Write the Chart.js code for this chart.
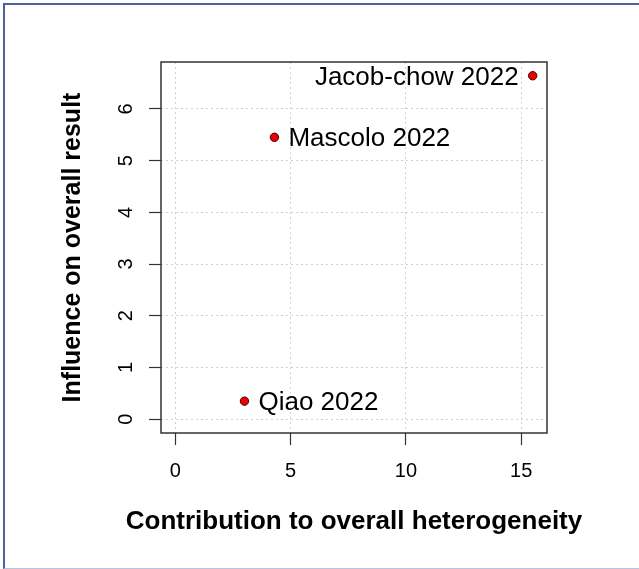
<!DOCTYPE html>
<html>
<head>
<meta charset="utf-8">
<script src="https://cdn.jsdelivr.net/npm/chart.js@4"></script>
<style>
  body { margin: 0; background: #fff; }
  #frame {
    position: absolute; left: 3px; top: 3px; width: 636px; height: 566px;
    border-left: 2px solid #4a62a0; border-top: 2px solid #4a62a0;
    border-bottom: 1px solid #b9c3de; box-sizing: border-box;
  }
  #myScatter { position: absolute; left: 0; top: 0; }
</style>
</head>
<body>
<div id="frame"></div>
<canvas id="myScatter" width="639" height="569"></canvas>
<script>
// study names and values
var studies = ['Qiao 2022', 'Mascolo 2022', 'Jacob-chow 2022'];
var heterogeneity = [3.0, 4.3, 15.5];   // x: contribution to overall heterogeneity
var influence = [0.35, 5.45, 6.64];     // y: influence on overall result
var xTicks = [0, 5, 10, 15];
var yTicks = [0, 1, 2, 3, 4, 5, 6];
var xTitle = 'Contribution to overall heterogeneity';
var yTitle = 'Influence on overall result';

var points = studies.map(function (s, i) {
    return { x: heterogeneity[i], y: influence[i] };
});

// R style limits: from 0 to max, widened by 4%
function rRange(vals) {
    var hi = Math.max.apply(null, vals);
    var pad = hi * 0.04;
    return [-pad, hi + pad];
}
var xr = rRange(heterogeneity);
var yr = rRange(influence);

// box round the plot area
var boxPlugin = {
    id: 'box',
    beforeDatasetsDraw: function (chart) {
        var a = chart.chartArea, c = chart.ctx;
        c.save();
        c.strokeStyle = '#333';
        c.lineWidth = 1.5;
        c.strokeRect(a.left, a.top, a.right - a.left, a.bottom - a.top);
        c.restore();
    }
};

// study names next to the points, and the x title (chart.js squeezes it to the axis width)
var labelPlugin = {
    id: 'pointLabels',
    afterDatasetsDraw: function (chart) {
        var c = chart.ctx, a = chart.chartArea;
        var meta = chart.getDatasetMeta(0);
        c.save();
        c.font = '26px "Liberation Sans", Arial, sans-serif';
        c.fillStyle = '#000';
        c.textBaseline = 'middle';
        meta.data.forEach(function (pt, i) {
            var txt = studies[i];
            var w = c.measureText(txt).width;
            if (pt.x + 14 + w > a.right) {
                c.textAlign = 'right';
                c.fillText(txt, pt.x - 14, pt.y + 2);
            } else {
                c.textAlign = 'left';
                c.fillText(txt, pt.x + 14, pt.y + 2);
            }
        });
        c.font = 'bold 26px "Liberation Sans", Arial, sans-serif';
        c.textAlign = 'center';
        c.fillText(xTitle, (a.left + a.right) / 2, 522);
        c.restore();
    }
};

var ctx = document.getElementById('myScatter').getContext('2d');
var chart = new Chart(ctx, {
    type: 'scatter',
    data: {
        datasets: [{
            data: points,
            backgroundColor: '#ee0000',
            borderColor: '#3a0000',
            borderWidth: 1,
            pointRadius: 4.2,
            pointHoverRadius: 4.2
        }]
    },
    options: {
        responsive: false,
        animation: false,
        layout: { padding: { top: 62, right: 92, left: 0, bottom: 0 } },
        plugins: { legend: { display: false }, tooltip: { enabled: false } },
        scales: {
            x: {
                type: 'linear',
                min: xr[0], max: xr[1],
                afterFit: function (s) { s.height = 136; },
                afterBuildTicks: function (s) { s.ticks = xTicks.map(function (v) { return { value: v }; }); },
                ticks: { color: '#000', padding: 14, font: { family: '"Liberation Sans", Arial', size: 20 } },
                grid: { color: '#d0d0d0', lineWidth: 1, tickLength: 12, tickColor: '#333', tickWidth: 1.2, tickBorderDash: [] },
                border: { display: false, dash: [2, 3] }
            },
            y: {
                type: 'linear',
                min: yr[0], max: yr[1],
                afterFit: function (s) { s.width = 161; },
                afterBuildTicks: function (s) { s.ticks = yTicks.map(function (v) { return { value: v }; }); },
                ticks: { color: '#000', padding: 17, minRotation: 90, maxRotation: 90, crossAlign: 'center',
                         font: { family: '"Liberation Sans", Arial', size: 20 } },
                grid: { color: '#d0d0d0', lineWidth: 1, tickLength: 12, tickColor: '#333', tickWidth: 1.2, tickBorderDash: [] },
                border: { display: false, dash: [2, 3] },
                title: {
                    display: true, text: yTitle, color: '#000',
                    font: { family: '"Liberation Sans", Arial', size: 25, weight: 'bold' },
                    padding: { top: 58, bottom: 0 }
                }
            }
        }
    },
    plugins: [boxPlugin, labelPlugin]
});
</script>
</body>
</html>
